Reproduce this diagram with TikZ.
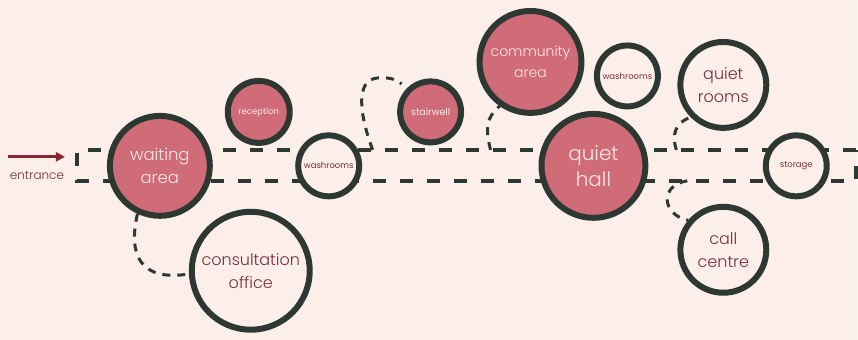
\documentclass[tikz,border=0pt]{standalone}
\usepackage{fontspec}
\setmainfont{Poppins}[UprightFont=* Light]
\newfontfamily\smallfam{Poppins}
\usetikzlibrary{arrows.meta}
\definecolor{bg}{HTML}{FCEEE9}
\definecolor{pinkf}{HTML}{D06C78}
\definecolor{ring}{HTML}{2E3833}
\definecolor{lighttxt}{HTML}{FAE6E6}
\definecolor{darktxt}{HTML}{7A2D38}
\definecolor{arrowc}{HTML}{8A2630}
\pgfdeclarelayer{bglayer}
\pgfsetlayers{bglayer,main}
\tikzset{
  room/.style={circle, draw=ring, line width=6pt, inner sep=0pt, align=center},
  hot/.style={room, fill=pinkf, text=lighttxt},
  cool/.style={room, fill=bg, text=darktxt},
  tiny/.style={font=\smallfam\fontsize{8.5}{9}\selectfont},
  corridor/.style={draw=ring, line width=3.6pt, dash pattern=on 13pt off 14pt},
  link/.style={draw=ring, line width=3pt, dash pattern=on 8pt off 7pt},
}
\begin{document}
\begin{tikzpicture}[x=1pt,y=-1pt]
\begin{pgfonlayer}{bglayer}
\fill[bg] (0,0) rectangle (858,340);
\useasboundingbox (0,0) rectangle (858,340);
\end{pgfonlayer}

% rooms
\node[hot, minimum size=100pt, font=\fontsize{16.5}{23}\selectfont] (wait) at (160,166) {waiting\\area};
\node[hot, minimum size=62pt, tiny] (recep) at (259,112) {reception};
\node[cool, minimum size=61pt, tiny] (washL) at (329,166) {washrooms};
\node[cool, minimum size=118pt, font=\fontsize{16}{23}\selectfont] (consult) at (251,271) {consultation\\office};
\node[hot, minimum size=61pt, tiny, font=\smallfam\fontsize{9.5}{10}\selectfont] (stair) at (431,112) {stairwell};
\node[hot, minimum size=102pt, font=\fontsize{14}{21}\selectfont] (comm) at (531,62) {community\\area};
\node[hot, minimum size=104pt, font=\fontsize{20}{26}\selectfont] (hall) at (594,166) {quiet\\hall};
\node[cool, minimum size=61pt, tiny] (washR) at (628,76) {washrooms};
\node[cool, minimum size=86pt, font=\fontsize{16}{23}\selectfont] (qrooms) at (724,85) {quiet\\rooms};
\node[cool, minimum size=61pt, tiny] (storage) at (797,166) {storage};
\node[cool, minimum size=86pt, font=\fontsize{16}{23}\selectfont] (call) at (724,250) {call\\centre};

% entrance
\coordinate (e1) at (8,157);
\coordinate (e2) at (65,157);
\draw[arrowc, line width=3pt, -{Triangle[length=9pt,width=9pt]}] (e1) -- (e2);
\node[text=darktxt, font=\fontsize{12}{13}\selectfont] (entr) at (37,176) {entrance};

\begin{pgfonlayer}{bglayer}
% corridor
\coordinate (cTL) at (77,150);
\coordinate (cBL) at (77,181);
\coordinate (cTR) at (857,150);
\coordinate (cBR) at (857,181);
\draw[corridor] (cTR) -- (cTL) -- (cBL) -- (cBR) -- (cTR);
\end{pgfonlayer}

% links
\coordinate (s1) at (373,150);
\draw[link] (s1) .. controls (360,115) and (355,80) .. (378,78) .. controls (390,77) and (398,80) .. (402,84);
\coordinate (c1) at (491,150);
\draw[link] (c1) .. controls (486,130) and (486,118) .. (comm.235);
\draw[link] (wait.245) .. controls (128,255) and (140,282) .. (consult.183);
\coordinate (q1) at (677,150);
\draw[link] (q1) .. controls (672,135) and (676,122) .. (qrooms.225);
\coordinate (k1) at (688,181);
\draw[link] (k1) .. controls (660,185) and (662,215) .. (call.140);
\end{tikzpicture}
\end{document}
